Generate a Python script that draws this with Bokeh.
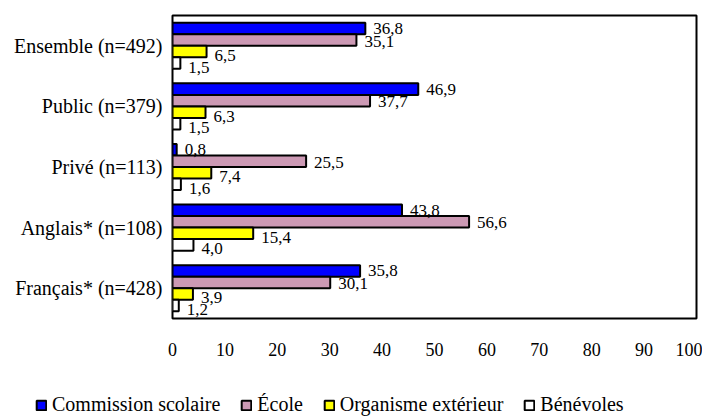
from bokeh.plotting import figure
from bokeh.layouts import column
from bokeh.models import ColumnDataSource, Range1d, FactorRange, Legend, LegendItem, LabelSet, FixedTicker
from bokeh.transform import dodge
from bokeh.core.properties import value
from bokeh.embed import file_html
from bokeh.resources import INLINE

categories = ["Ensemble (n=492)", "Public (n=379)", "Privé (n=113)", "Anglais* (n=108)", "Français* (n=428)"]
commission = [36.8, 46.9, 0.8, 43.8, 35.8]
ecole = [35.1, 37.7, 25.5, 56.6, 30.1]
organisme = [6.5, 6.3, 7.4, 15.4, 3.9]
benevoles = [1.5, 1.5, 1.6, 4.0, 1.2]
series_names = ["Commission scolaire", "École", "Organisme extérieur", "Bénévoles"]
x_ticks = [0, 10, 20, 30, 40, 50, 60, 70, 80, 90, 100]

FONT = "Liberation Serif, serif"
colors = ["#0000FF", "#CC99B4", "#FFFF00", "#FFFFFF"]
offsets = [0.285, 0.095, -0.095, -0.285]
label_dy = [0, -1, -4, -4]

def fmt(v):
    return ("%.1f" % v).replace(".", ",")

p = figure(width=702, height=366, output_backend="svg", toolbar_location=None,
           y_range=FactorRange(factors=list(reversed(categories))),
           x_range=Range1d(0, 100),
           min_border_left=172, min_border_right=6, min_border_top=15, min_border_bottom=48)
p.frame_align = False

p.outline_line_color = "black"
p.outline_line_width = 2
p.xgrid.visible = False
p.ygrid.visible = False

data = [commission, ecole, organisme, benevoles]
for i, vals in enumerate(data):
    src = ColumnDataSource(dict(cat=categories, v=vals, lbl=[fmt(v) for v in vals]))
    p.hbar(y=dodge("cat", offsets[i], range=p.y_range), right="v", left=0, height=0.19,
           source=src, fill_color=colors[i], line_color="black", line_width=2)
    lbls = LabelSet(x="v", y=dodge("cat", offsets[i], range=p.y_range), text="lbl", source=src,
                    x_offset=8, y_offset=label_dy[i], text_font=value(FONT), text_font_size="17px",
                    text_baseline="middle", text_color="black")
    p.add_layout(lbls)

p.xaxis.ticker = FixedTicker(ticks=x_ticks)
p.xaxis.major_label_text_font = FONT
p.xaxis.major_label_text_font_size = "18px"
p.xaxis.major_label_text_color = "black"
p.xaxis.major_tick_line_color = None
p.xaxis.minor_tick_line_color = None
p.xaxis.axis_line_color = None
p.xaxis.major_label_standoff = 18

p.yaxis.major_label_text_font = FONT
p.yaxis.major_label_text_font_size = "20px"
p.yaxis.major_label_text_color = "black"
p.yaxis.major_tick_line_color = None
p.yaxis.axis_line_color = None
p.yaxis.major_label_standoff = 4

# legend strip
lg = figure(width=702, height=50, output_backend="svg", toolbar_location=None,
            x_range=Range1d(0, 1), y_range=Range1d(0, 1),
            x_axis_location=None, y_axis_location=None,
            min_border_left=0, min_border_right=0, min_border_top=0, min_border_bottom=0)
lg.frame_align = False
lg.outline_line_color = None
lg.xgrid.visible = False
lg.ygrid.visible = False
items = []
for i in range(4):
    r = lg.hbar(y=[-5], right=[0], left=0, height=0.5, fill_color=colors[i],
                line_color="black", line_width=2)
    items.append(LegendItem(label=series_names[i], renderers=[r]))
legend = Legend(items=items, orientation="horizontal", location=(35, 0),
                label_text_font=FONT, label_text_font_size="20px", label_text_color="black",
                glyph_width=12, glyph_height=12, label_standoff=5, spacing=20,
                padding=0, margin=0, border_line_color=None, background_fill_alpha=0,
                label_height=20)
lg.add_layout(legend, "center")

open("out.html", "w").write(file_html(column(p, lg, spacing=0), INLINE))
